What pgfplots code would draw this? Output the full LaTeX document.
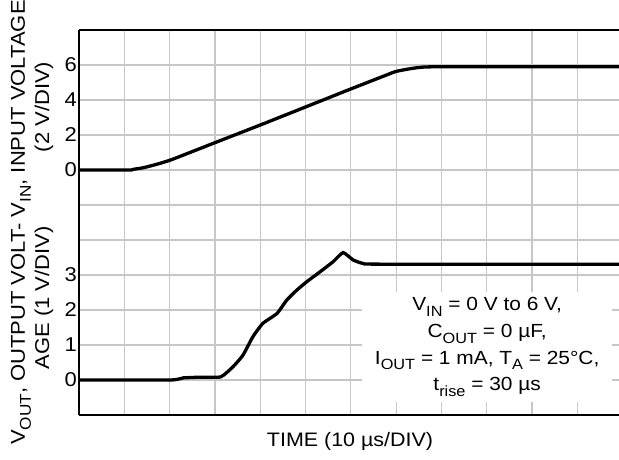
\documentclass[border=0pt]{standalone}
\usepackage{pgfplots}
\pgfplotsset{compat=1.18}
\usepackage{pgfplotstable}
\usepackage{fontspec}
\usepackage{graphicx}
\setmainfont{Liberation Sans}[FakeStretch=1.1]
\newcommand{\sub}[1]{\raisebox{-0.3em}{\scalebox{0.78}{#1}}}
\newcommand{\fs}[1]{\fontsize{#1}{#1}\selectfont}

\pgfplotstableread{
t v
0 0
11.0 0
12.0 0.04
14.2 0.13
17.2 0.33
20.1 0.56
24.0 0.95
30.0 1.56
40.0 2.57
50.0 3.6
59.8 4.61
67.9 5.43
70.1 5.64
74.5 5.84
79.7 5.9
119.2 5.9
}\vin

\pgfplotstableread{
t v
0 0
20.1 0
23.0 0.06
26.7 0.08
31.3 0.09
34.0 0.38
36.2 0.71
38.4 1.24
40.6 1.62
43.7 1.9
45.9 2.29
48.1 2.57
50.3 2.81
53.2 3.09
56.1 3.38
58.3 3.64
60.5 3.43
62.7 3.33
66.4 3.31
119.2 3.31
}\vout

\begin{document}%
\begin{tikzpicture}[font=\fs{20}]
\begin{axis}[
  at={(0pt,0pt)}, anchor=south west,
  scale only axis, width=540pt, height=385pt,
  xmin=0, xmax=119.2, ymin=0, ymax=11,
  axis x line*=box, axis y line*=left,
  axis line style={line width=2.7pt, -},
  every outer x axis line/.append style={-},
  every outer y axis line/.append style={-},
  xtick={0,10,...,110}, xticklabels={},
  ytick={0,...,11}, yticklabels={,0,1,2,3,,,0,2,4,6,},
  major tick length=0pt,
  yticklabel style={font=\fs{20}, inner sep=0pt, xshift=-2pt},
  grid=major, grid style={line width=1.2pt, color=black!22},
  clip=true,
]
\addplot[black, line width=3.3pt, smooth, tension=0.35] table[x=t, y expr=7+\thisrow{v}/2] {\vin};
\addplot[black, line width=3.3pt, smooth, tension=0.3] table[x=t, y expr=1+\thisrow{v}] {\vout};
\node[fill=white, minimum width=250pt, minimum height=110pt, align=center, inner sep=0pt,
      font=\fontsize{19}{26.7}\selectfont] at (axis cs:90.1,1.94)
  {V\sub{IN} = 0 V to 6 V,\\C\sub{OUT} = 0 µF,\\I\sub{OUT} = 1 mA, T\sub{A} = 25°C,\\t\sub{rise} = 30 µs};
\end{axis}
\node[rotate=90, anchor=base west, inner sep=0pt, font=\fs{20}] at (-54pt,-30pt)
  {V\sub{OUT}, OUTPUT VOLT- V\sub{IN}, INPUT VOLTAGE};
\node[rotate=90, inner sep=0pt, font=\fs{20}] at (-35pt,308pt) {(2 V/DIV)};
\node[rotate=90, inner sep=0pt, font=\fs{20}] at (-35pt,117pt) {AGE (1 V/DIV)};
\node[inner sep=0pt, font=\fs{19.5}] at (271pt,-26pt) {TIME (10 µs/DIV)};
\pgfresetboundingbox
\path[use as bounding box] (-79pt,-44pt) rectangle (540pt,415pt);
\end{tikzpicture}%
\end{document}
